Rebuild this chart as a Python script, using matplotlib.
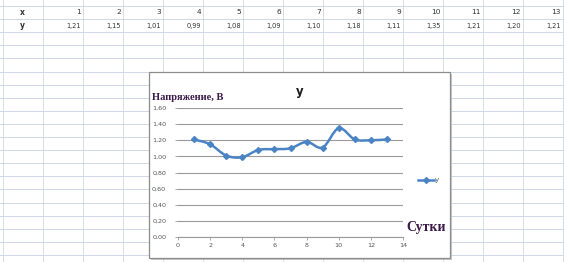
import matplotlib
matplotlib.use("Agg")
import matplotlib.pyplot as plt
import numpy as np
from matplotlib.path import Path
from matplotlib.patches import PathPatch, Rectangle
from matplotlib.ticker import FuncFormatter, MultipleLocator
from matplotlib.lines import Line2D

days = [1, 2, 3, 4, 5, 6, 7, 8, 9, 10, 11, 12, 13]
voltage = [1.21, 1.15, 1.01, 0.99, 1.08, 1.09, 1.10, 1.18, 1.11, 1.35, 1.21, 1.20, 1.21]
voltage_labels = ["1,21", "1,15", "1,01", "0,99", "1,08", "1,09", "1,10", "1,18", "1,11", "1,35", "1,21", "1,20", "1,21"]
y_label = "Напряжение, В"
x_label = "Сутки"
title = "y"

W, H = 564, 262
fig = plt.figure(figsize=(W / 100, H / 100), dpi=100)

# spreadsheet background
bg = fig.add_axes([0, 0, 1, 1])
bg.set_xlim(0, W)
bg.set_ylim(H, 0)
bg.axis("off")
grid_c = "#cdd7e8"
for xv in np.arange(3, W + 1, 40):
    bg.plot([xv, xv], [0, H], color=grid_c, lw=0.6, zorder=0)
for yv in np.arange(6, H, 13.1):
    bg.plot([0, W], [yv, yv], color=grid_c, lw=0.7, zorder=0)

txt_c = "#333333"
bg.text(20, 12.5, "x", fontsize=5.5, color=txt_c, va="center", ha="left", fontweight="bold")
bg.text(20, 26, "y", fontsize=5.5, color=txt_c, va="center", ha="left", fontweight="bold")
for i, (d, v) in enumerate(zip(days, voltage_labels)):
    xr = 81 + 40 * i
    bg.text(xr, 12.5, str(d), fontsize=5.3, color=txt_c, va="center", ha="right")
    bg.text(xr, 26, v, fontsize=4.8, color=txt_c, va="center", ha="right")

# chart box with shadow
bg.add_patch(Rectangle((151, 74), 301, 186, facecolor="#c8c8c8", edgecolor="none", zorder=1))
bg.add_patch(Rectangle((149, 72), 301, 186, facecolor="white", edgecolor="#8c8c8c", lw=0.9, zorder=2))

bg.text(152, 98, y_label, fontsize=7.6, fontweight="bold", color="#3b1a4a",
        family="Liberation Serif", va="center", ha="left", zorder=3)
bg.text(300, 92, title, fontsize=8.5, fontweight="bold", color="#1a1a1a",
        va="center", ha="center", zorder=3)
bg.text(426, 228, x_label, fontsize=10, fontweight="bold", color="#3b1a4a",
        family="Liberation Serif", va="center", ha="center", zorder=3)

# plot area
left, right, top, bottom = 178, 403, 108, 237
ax = fig.add_axes([left / W, (H - bottom) / H, (right - left) / W, (bottom - top) / H])
ax.set_zorder(5)
ax.patch.set_alpha(0)
ax.set_xlim(0, 14)
ax.set_ylim(0, 1.6)
ax.xaxis.set_major_locator(MultipleLocator(2))
ax.yaxis.set_major_locator(MultipleLocator(0.2))
ax.yaxis.set_major_formatter(FuncFormatter(lambda v, p: f"{v:.2f}".replace(".", ",")))
ax.grid(axis="y", color="#9a9a9a", lw=0.8)
ax.set_axisbelow(True)
for s in ["top", "right", "left"]:
    ax.spines[s].set_visible(False)
ax.spines["bottom"].set_color("#9a9a9a")
ax.spines["bottom"].set_linewidth(0.8)
ax.tick_params(axis="both", labelsize=4.6, colors="#9a9a9a", labelcolor="#555555",
               length=2.5, width=0.6, pad=2)
ax.tick_params(axis="y", pad=6)

# smoothed line (Catmull-Rom via cubic Bezier, as Excel smoothing)
x = np.array(days, float)
y = np.array(voltage, float)
verts = [(x[0], y[0])]
codes = [Path.MOVETO]
for i in range(len(x) - 1):
    p0 = (x[max(i - 1, 0)], y[max(i - 1, 0)])
    p1 = (x[i], y[i])
    p2 = (x[i + 1], y[i + 1])
    p3 = (x[min(i + 2, len(x) - 1)], y[min(i + 2, len(x) - 1)])
    c1 = (p1[0] + (p2[0] - p0[0]) / 6, p1[1] + (p2[1] - p0[1]) / 6)
    c2 = (p2[0] - (p3[0] - p1[0]) / 6, p2[1] - (p3[1] - p1[1]) / 6)
    verts += [c1, c2, p2]
    codes += [Path.CURVE4] * 3
line_c = "#4a84c4"
ax.add_patch(PathPatch(Path(verts, codes), facecolor="none", edgecolor=line_c, lw=1.8, zorder=3))
ax.plot(x, y, linestyle="none", marker="D", markersize=3, color=line_c, zorder=4)

# legend
h = Line2D([0], [0], color=line_c, lw=1.8, marker="D", markersize=3)
ax.legend([h], ["y"], loc="center left", bbox_to_anchor=(1.04, 0.44), frameon=False,
          fontsize=5, handlelength=2.2, handletextpad=0.2, labelcolor="#555555")

fig.savefig("out.png", dpi=100)
